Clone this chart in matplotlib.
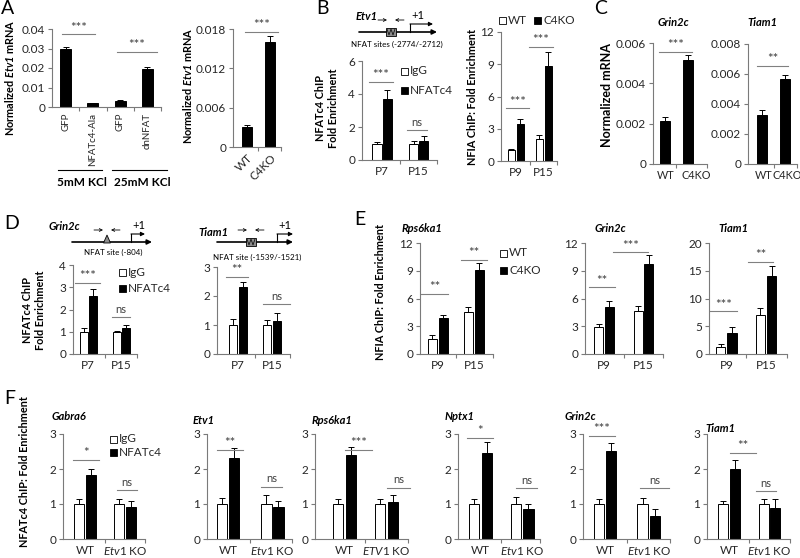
import numpy as np
import matplotlib.pyplot as plt
from matplotlib.patches import Rectangle, Polygon

plt.rcParams['font.family'] = ['Lato', 'DejaVu Sans']
plt.rcParams['mathtext.fontset'] = 'custom'
plt.rcParams['mathtext.rm'] = 'Lato'
plt.rcParams['mathtext.it'] = 'Lato:italic'
plt.rcParams['mathtext.bf'] = 'Lato:bold'
plt.rcParams['mathtext.bfit'] = 'Lato:italic:bold'

# ---- data ----
# A: Etv1 mRNA
a_labels = ['GFP', 'NFATc4-Ala', 'GFP', 'dnNFAT']
a_vals = [0.0296, 0.0020, 0.0033, 0.0193]
a_err = [0.0012, 0.0002, 0.0003, 0.0011]
a2_labels = ['WT', 'C4KO']
a2_vals = [0.0030, 0.0160]
a2_err = [0.0003, 0.0010]

# B: Etv1 ChIP
b_groups = ['P7', 'P15']
b_igg = [1.0, 1.0]
b_igg_err = [0.1, 0.15]
b_nfat = [3.7, 1.17]
b_nfat_err = [0.55, 0.3]
b2_groups = ['P9', 'P15']
b2_wt = [1.0, 2.08]
b2_wt_err = [0.16, 0.3]
b2_ko = [3.42, 8.8]
b2_ko_err = [0.52, 1.3]

# C: mRNA in WT vs C4KO
c_labels = ['WT', 'C4KO']
c_grin = [0.00215, 0.00516]
c_grin_err = [0.0002, 0.00025]
c_tiam = [0.00324, 0.00565]
c_tiam_err = [0.00034, 0.00027]

# D: NFATc4 ChIP
d_groups = ['P7', 'P15']
d_grin_igg = [1.0, 1.0]
d_grin_igg_err = [0.15, 0.05]
d_grin_nfat = [2.6, 1.15]
d_grin_nfat_err = [0.3, 0.15]
d_tiam_igg = [1.0, 1.0]
d_tiam_igg_err = [0.2, 0.17]
d_tiam_nfat = [2.3, 1.15]
d_tiam_nfat_err = [0.18, 0.27]

# E: NFIA ChIP
e_groups = ['P9', 'P15']
e_genes = ['Rps6ka1', 'Grin2c', 'Tiam1']
e_wt = [[1.59, 4.59], [2.89, 4.66], [1.33, 7.05]]
e_wt_err = [[0.47, 0.47], [0.36, 0.58], [0.42, 1.2]]
e_ko = [[3.87, 9.03], [5.13, 9.76], [3.86, 13.98]]
e_ko_err = [[0.36, 0.8], [0.62, 0.97], [0.96, 1.92]]
e_ymax = [12, 12, 20]
e_ytick_step = [3, 3, 5]

# F: NFATc4 ChIP in WT vs Etv1 KO
f_genes = ['Gabra6', 'Etv1', 'Rps6ka1', 'Nptx1', 'Grin2c', 'Tiam1']
f_ko_names = ['Etv1', 'Etv1', 'ETV1', 'Etv1', 'Etv1', 'Etv1']
f_igg = [[1.0, 1.0]] * 6
f_igg_err = [[0.13, 0.13], [0.17, 0.26], [0.13, 0.13], [0.14, 0.21], [0.13, 0.18], [0.1, 0.13]]
f_nfat = [[1.84, 0.92], [2.32, 0.92], [2.4, 1.05], [2.47, 0.86], [2.52, 0.65], [2.01, 0.88]]
f_nfat_err = [[0.16, 0.16], [0.28, 0.18], [0.22, 0.2], [0.29, 0.14], [0.22, 0.21], [0.24, 0.27]]

W, H = 800, 558
AXC = '#7a7a7a'
TXT = '#262626'
SIGC = '#808080'
TICKFS = 8.5
fig = plt.figure(figsize=(W / 100, H / 100), dpi=100)


def make_ax(x0, x1, ytop, ybot, xlim, yticks, bounds):
    ax = fig.add_axes([x0 / W, 1 - ybot / H, (x1 - x0) / W, (ybot - ytop) / H])
    ax.set_xlim(*xlim)
    ax.set_ylim(0, yticks[-1])
    ax.set_yticks(yticks, ['0' if t == 0 else f'{t:g}' for t in yticks])
    for s in ['top', 'right']:
        ax.spines[s].set_visible(False)
    for s in ['left', 'bottom']:
        ax.spines[s].set_color(AXC)
        ax.spines[s].set_linewidth(0.8)
    ax.tick_params(axis='y', direction='out', length=3, width=0.8, color=AXC,
                   labelsize=TICKFS, labelcolor=TXT, pad=2)
    ax.tick_params(axis='x', which='major', length=0, labelsize=TICKFS, labelcolor=TXT, pad=4)
    ax.set_xticks(bounds, minor=True)
    ax.tick_params(axis='x', which='minor', direction='out', length=3, width=0.8, color=AXC)
    return ax


def bars(ax, x, vals, errs, width, color):
    ax.bar(x, vals, width, color=color, edgecolor='black', linewidth=0.7, zorder=2)
    ax.errorbar(x, vals, yerr=[np.zeros(len(vals)), errs], fmt='none', ecolor='black',
                elinewidth=0.7, capsize=2, capthick=0.7, zorder=3)


def pair(ax, left, left_err, right, right_err, off, width):
    x = np.arange(len(left))
    bars(ax, x - off, left, left_err, width, 'white')
    bars(ax, x + off, right, right_err, width, 'black')


def sig(ax, x0, x1, y, label):
    ax.plot([x0, x1], [y, y], color=SIGC, lw=0.8, clip_on=False, zorder=4)
    stars = label.startswith('*')
    ax.annotate(label, ((x0 + x1) / 2, y), xytext=(0, 0.5 if stars else 1.5),
                textcoords='offset points', ha='center', va='bottom',
                fontsize=9.5 if stars else 8, color='#404040', annotation_clip=False)


# overlay in pixel coordinates for labels and diagrams
ov = fig.add_axes([0, 0, 1, 1], zorder=10)
ov.set_xlim(0, W)
ov.set_ylim(H, 0)
ov.axis('off')


def vlabel(x, y, s):
    ov.text(x, y, s, rotation=90, ha='center', va='center', fontsize=7.8, fontweight='bold')


def legend(x, ys, labels, colors):
    for y, lab, c in zip(ys, labels, colors):
        ov.add_patch(Rectangle((x, y - 3.5), 7, 7, facecolor=c, edgecolor='black', lw=0.6))
        ov.text(x + 9, y, lab, ha='left', va='center', fontsize=8.5, color=TXT)


def promoter(x0, x1, y, site, kind, tss, tss_len, gene, gx, gy, caption, cy):
    ov.annotate('', xy=(x1, y), xytext=(x0, y),
                arrowprops=dict(arrowstyle='-|>', color='black', lw=1.2, mutation_scale=7,
                                shrinkA=0, shrinkB=0))
    if kind == 'box':
        ov.add_patch(Rectangle((site - 5, y - 4), 10, 8, facecolor='#8c8c8c',
                               edgecolor='black', lw=0.6, zorder=3))
        ov.plot([site - 4, site - 2, site, site + 2, site + 4],
                [y - 3, y + 3, y - 3, y + 3, y - 3], color='black', lw=0.5, zorder=4)
    else:
        ov.add_patch(Polygon([[site - 3.5, y + 1], [site + 3.5, y + 1], [site, y - 7]],
                             facecolor='#8c8c8c', edgecolor='black', lw=0.6, zorder=3))
    ov.annotate('', xy=(site - 4, y - 12), xytext=(site - 13, y - 12),
                arrowprops=dict(arrowstyle='->', lw=0.6, color='black', mutation_scale=5,
                                shrinkA=0, shrinkB=0))
    ov.annotate('', xy=(site + 4, y - 12), xytext=(site + 13, y - 12),
                arrowprops=dict(arrowstyle='->', lw=0.6, color='black', mutation_scale=5,
                                shrinkA=0, shrinkB=0))
    ov.plot([tss, tss], [y, y - 8], color='black', lw=0.8)
    ov.annotate('', xy=(tss + tss_len, y - 8), xytext=(tss, y - 8),
                arrowprops=dict(arrowstyle='-|>', lw=0.8, color='black', mutation_scale=6,
                                shrinkA=0, shrinkB=0))
    ov.text(tss + 8, y - 11, '+1', ha='center', va='bottom', fontsize=8)
    ov.text(gx, gy, gene, ha='center', va='center', fontsize=8, fontweight='bold',
            fontstyle='italic')
    ov.text(site + 6, cy, caption, ha='center', va='center', fontsize=5.8)


# panel letters
for lab, x, y in [('A', 1, 0), ('B', 316, 0), ('C', 594, 0), ('D', 4, 215), ('E', 354, 211), ('F', 4, 390)]:
    ov.text(x, y, lab, ha='left', va='top', fontsize=14)

# ---------------- A ----------------
ax = make_ax(52, 161, 29, 107, (-0.5, 3.5), [0, 0.01, 0.02, 0.03, 0.04], [0.5, 1.5, 2.5, 3.5])
bars(ax, np.arange(4), a_vals, a_err, 0.4, 'black')
ax.set_xticks(np.arange(4), a_labels, rotation=90, fontsize=7)
sig(ax, -0.13, 1.08, 0.0373, '***')
sig(ax, 1.88, 3.35, 0.0284, '***')
vlabel(10, 78, r'Normalized $\mathbfit{Etv1}$ mRNA')
ov.plot([58, 102], [170, 170], color='black', lw=0.8)
ov.plot([112, 167], [170, 170], color='black', lw=0.8)
ov.text(82, 183, '5mM KCl', ha='center', va='center', fontsize=8.5, fontweight='bold')
ov.text(142, 183, '25mM KCl', ha='center', va='center', fontsize=8.5, fontweight='bold')

ax = make_ax(233, 281, 29, 147, (-0.61, 1.48), [0, 0.006, 0.012, 0.018], [0.5, 1.48])
bars(ax, np.arange(2), a2_vals, a2_err, 0.43, 'black')
ax.set_xticks(np.arange(2), a2_labels, rotation=45, ha='right', va='top', rotation_mode='anchor')
sig(ax, -0.09, 1.35, 0.0176, '***')
vlabel(187, 86, r'Normalized $\mathbfit{Etv1}$ mRNA')

# ---------------- B ----------------
promoter(359, 437, 32, 391, 'box', 410, 23, 'Etv1', 367, 17, 'NFAT sites (-2774/-2712)', 44)
ax = make_ax(362, 437, 61, 160, (-0.55, 1.5), [0, 2, 4, 6], [0.5, 1.5])
pair(ax, b_igg, b_igg_err, b_nfat, b_nfat_err, 0.14, 0.25)
ax.set_xticks(np.arange(2), b_groups)
sig(ax, -0.36, 0.3, 4.75, '***')
sig(ax, 0.68, 1.23, 1.82, 'ns')
legend(401, [71, 90], ['IgG', 'NFATc4'], ['white', 'black'])
ov.text(327, 108, 'NFATc4 ChIP\nFold Enrichment', rotation=90, ha='center', va='center',
        fontsize=7.8, fontweight='bold', linespacing=1.15)

ax = make_ax(501, 557, 32, 161, (-0.52, 1.48), [0, 3, 6, 9, 12], [0.5, 1.48])
pair(ax, b2_wt, b2_wt_err, b2_ko, b2_ko_err, 0.16, 0.25)
ax.set_xticks(np.arange(2), b2_groups)
sig(ax, -0.34, 0.48, 4.9, '***')
sig(ax, 0.48, 1.34, 10.63, '***')
legend(499, [20], ['WT'], ['white'])
legend(534, [20], ['C4KO'], ['black'])
vlabel(472, 97, 'NFIA ChIP: Fold Enrichment')

# ---------------- C ----------------
ax = make_ax(653, 707, 43, 164, (-0.52, 1.83), [0, 0.002, 0.004, 0.006], [0.5, 1.83])
bars(ax, np.arange(2), c_grin, c_grin_err, 0.45, 'black')
ax.set_xticks([0.05, 1.35], c_labels, fontsize=7.8)
sig(ax, -0.26, 1.17, 0.00557, '***')
ov.text(673, 23, 'Grin2c', ha='center', va='center', fontsize=8, fontweight='bold', fontstyle='italic')

ax = make_ax(748, 797, 44, 164, (-0.61, 1.52), [0, 0.002, 0.004, 0.006, 0.008], [0.5, 1.52])
bars(ax, np.arange(2), c_tiam, c_tiam_err, 0.45, 'black')
ax.set_xticks([0.05, 1.08], c_labels, fontsize=7.8)
sig(ax, -0.22, 1.13, 0.00655, '**')
ov.text(762, 23, 'Tiam1', ha='center', va='center', fontsize=8, fontweight='bold', fontstyle='italic')
ov.text(607, 95, 'Normalized mRNA', rotation=90, ha='center', va='center', fontsize=9, fontweight='bold')

# ---------------- D ----------------
promoter(72, 152, 242, 107, 'tri', 131, 14, 'Grin2c', 64, 227, 'NFAT site (-804)', 252)
ax = make_ax(73, 137, 265, 354, (-0.46, 1.47), [0, 1, 2, 3, 4], [0.5, 1.47])
pair(ax, d_grin_igg, d_grin_igg_err, d_grin_nfat, d_grin_nfat_err, 0.14, 0.24)
ax.set_xticks(np.arange(2), d_groups)
sig(ax, -0.4, 0.35, 3.2, '***')
sig(ax, 0.71, 1.26, 1.65, 'ns')
legend(119, [272, 288], ['IgG', 'NFATc4'], ['white', 'black'])

promoter(217, 293, 242, 251, 'box', 277, 16, 'Tiam1', 213, 232, 'NFAT site (-1539/-1521)', 257)
ax = make_ax(217, 290, 267, 354, (-0.62, 1.53), [0, 1, 2, 3], [0.5, 1.53])
pair(ax, d_tiam_igg, d_tiam_igg_err, d_tiam_nfat, d_tiam_nfat_err, 0.147, 0.24)
ax.set_xticks(np.arange(2), d_groups)
sig(ax, -0.35, 0.29, 2.65, '**')
sig(ax, 0.74, 1.53, 1.72, 'ns')
ov.text(34, 310, 'NFATc4 ChIP\nFold Enrichment', rotation=90, ha='center', va='center',
        fontsize=7.8, fontweight='bold', linespacing=1.15)

# ---------------- E ----------------
e_axes = [(420, 493, (-0.5, 1.53), 0.153, 0.25), (585, 663, (-0.48, 1.49), 0.13, 0.23),
          (709, 787, (-0.44, 1.53), 0.14, 0.23)]
e_sigs = [[(-0.47, 0.28, 6.5, '**'), (0.64, 1.36, 10.2, '**')],
          [(-0.38, 0.28, 7.2, '**'), (0.23, 1.11, 11.0, '***')],
          [(-0.42, 0.27, 7.7, '***'), (0.54, 1.18, 16.6, '**')]]
e_title_x = [422, 610, 733]
for i in range(3):
    x0, x1, xl, off, wd = e_axes[i]
    ax = make_ax(x0, x1, 243, 354, xl, list(range(0, e_ymax[i] + 1, e_ytick_step[i])), [0.5, xl[1]])
    pair(ax, e_wt[i], e_wt_err[i], e_ko[i], e_ko_err[i], off, wd)
    ax.set_xticks(np.arange(2), e_groups)
    for s in e_sigs[i]:
        sig(ax, *s)
    ov.text(e_title_x[i], 228, e_genes[i], ha='center', va='center', fontsize=8,
            fontweight='bold', fontstyle='italic')
legend(500, [253, 270], ['WT', 'C4KO'], ['white', 'black'])
vlabel(380, 292, 'NFIA ChIP: Fold Enrichment')

# ---------------- F ----------------
f_axes = [(63, 145, (-0.55, 1.5), 0.15, 0.25), (207, 292, (-0.47, 1.44), 0.135, 0.23),
          (315, 408, (-0.7, 1.51), 0.15, 0.24), (458, 540, (-0.54, 1.43), 0.15, 0.25),
          (583, 670, (-0.5, 1.48), 0.14, 0.24), (707, 790, (-0.54, 1.5), 0.14, 0.25)]
f_sigs = [[(-0.3, 0.35, 2.27, '*'), (0.8, 1.3, 1.39, 'ns')],
          [(-0.25, 0.34, 2.55, '**'), (0.74, 1.21, 1.5, 'ns')],
          [(0.01, 0.65, 2.55, '***'), (1.01, 1.56, 1.47, 'ns')],
          [(-0.33, 0.3, 2.9, '*'), (0.86, 1.36, 1.45, 'ns')],
          [(-0.36, 0.23, 2.95, '***'), (0.8, 1.45, 1.45, 'ns')],
          [(0.02, 0.67, 2.46, '**'), (0.67, 1.16, 1.36, 'ns')]]
f_title_pos = [(52, 417), (193, 420), (312, 420), (445, 417), (565, 417), (705, 428)]
for i in range(6):
    x0, x1, xl, off, wd = f_axes[i]
    ax = make_ax(x0, x1, 434, 539, xl, [0, 1, 2, 3], [0.5, xl[1]])
    pair(ax, f_igg[i], f_igg_err[i], f_nfat[i], f_nfat_err[i], off, wd)
    ax.set_xticks(np.arange(2), ['WT', r'$\mathit{' + f_ko_names[i] + '}$ KO'])
    for s in f_sigs[i]:
        sig(ax, *s)
    tx, ty = f_title_pos[i]
    ov.text(tx, ty, f_genes[i], ha='left', va='center', fontsize=8,
            fontweight='bold', fontstyle='italic')
legend(110, [439, 452], ['IgG', 'NFATc4'], ['white', 'black'])
vlabel(25, 472, 'NFATc4 ChIP: Fold Enrichment')

fig.savefig('out.png', dpi=100, facecolor='white')
